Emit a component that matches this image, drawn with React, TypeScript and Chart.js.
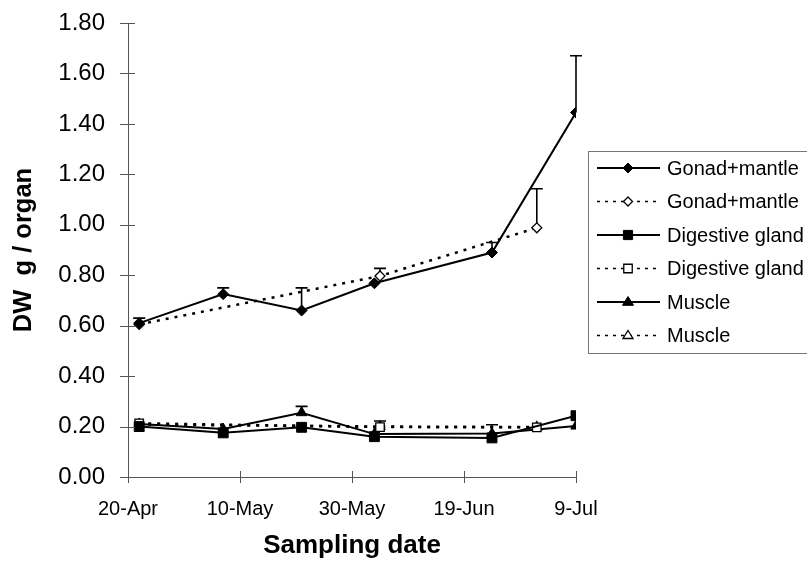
import React, { useEffect, useRef } from "react";
import { Chart, registerables } from "chart.js";

Chart.register(...registerables);

// ---- data ----
const tickDays = [0, 20, 40, 60, 80];
const tickLabels = ["20-Apr", "10-May", "30-May", "19-Jun", "9-Jul"];

const filledDays = [2, 17, 31, 44, 65, 80];
const openDays = [2, 45, 73];

const gonadFilled = [0.61, 0.725, 0.66, 0.768, 0.89, 1.445];
const gonadFilledErr = [0.02, 0.025, 0.09, null, 0.04, 0.225];
const gonadOpen = [0.605, 0.797, 0.988];
const gonadOpenErr = [null, 0.03, 0.155];

const digestFilled = [0.2, 0.175, 0.197, 0.16, 0.155, 0.243];
const digestFilledErr = [null, null, null, null, null, null];
const digestOpen = [0.213, 0.198, 0.197];
const digestOpenErr = [null, null, null];

const muscleFilled = [0.21, 0.19, 0.255, 0.17, 0.172, 0.202];
const muscleFilledErr = [null, null, 0.025, null, 0.035, null];
const muscleOpen = [0.208, 0.2, 0.198];
const muscleOpenErr = [null, 0.022, null];

const seriesLabels = [
  "Gonad+mantle",
  "Gonad+mantle",
  "Digestive gland",
  "Digestive gland",
  "Muscle",
  "Muscle",
];

const FONT = "'Liberation Sans', Arial, Helvetica, sans-serif";
const DOT = [3, 6];

function pts(days: number[], vals: number[]) {
  return days.map((d, i) => ({ x: d, y: vals[i] }));
}

function markerPath(ctx: CanvasRenderingContext2D, style: string, r: number, x: number, y: number) {
  ctx.beginPath();
  if (style === "rectRot") {
    ctx.moveTo(x, y - r);
    ctx.lineTo(x + r, y);
    ctx.lineTo(x, y + r);
    ctx.lineTo(x - r, y);
    ctx.closePath();
  } else if (style === "rect") {
    const s = r * Math.SQRT1_2;
    ctx.rect(x - s, y - s, 2 * s, 2 * s);
  } else {
    ctx.moveTo(x, y - r);
    ctx.lineTo(x + r, y + r * 0.6);
    ctx.lineTo(x - r, y + r * 0.6);
    ctx.closePath();
  }
}

const errorBarPlugin = {
  id: "errorBars",
  beforeDatasetsDraw(chart: any) {
    const { ctx } = chart;
    const xs = chart.scales.x;
    const ys = chart.scales.y;
    ctx.save();
    ctx.strokeStyle = "#000";
    ctx.lineWidth = 1.6;
    chart.data.datasets.forEach((ds: any) => {
      const errs = ds.errPlus as (number | null)[];
      if (!errs) return;
      ds.data.forEach((p: any, i: number) => {
        const e = errs[i];
        if (e == null) return;
        const x = xs.getPixelForValue(p.x);
        const y0 = ys.getPixelForValue(p.y);
        const y1 = ys.getPixelForValue(p.y + e);
        ctx.beginPath();
        ctx.moveTo(x, y0);
        ctx.lineTo(x, y1);
        ctx.moveTo(x - 6, y1);
        ctx.lineTo(x + 6, y1);
        ctx.stroke();
      });
    });
    ctx.restore();
  },
};

const crossTicksPlugin = {
  id: "crossTicks",
  afterDraw(chart: any) {
    const { ctx, chartArea } = chart;
    const xs = chart.scales.x;
    const ys = chart.scales.y;
    ctx.save();
    ctx.strokeStyle = "#555";
    ctx.lineWidth = 1;
    ys.ticks.forEach((t: any) => {
      const y = Math.round(ys.getPixelForValue(t.value)) + 0.5;
      ctx.beginPath();
      ctx.moveTo(chartArea.left - 8, y);
      ctx.lineTo(chartArea.left + 7, y);
      ctx.stroke();
    });
    xs.ticks.forEach((t: any) => {
      const x = Math.round(xs.getPixelForValue(t.value)) + 0.5;
      ctx.beginPath();
      ctx.moveTo(x, chartArea.bottom - 6);
      ctx.lineTo(x, chartArea.bottom + 6);
      ctx.stroke();
    });
    ctx.restore();
  },
};

const boxLegendPlugin = {
  id: "boxLegend",
  afterDraw(chart: any) {
    const { ctx } = chart;
    const left = 588;
    const top = 151;
    const bottom = 353;
    const right = 812;
    ctx.save();
    ctx.strokeStyle = "#777";
    ctx.lineWidth = 1;
    ctx.strokeRect(left + 0.5, top + 0.5, right - left, bottom - top);
    const rowH = 33.5;
    const firstY = 168;
    chart.data.datasets.forEach((ds: any, i: number) => {
      const y = firstY + i * rowH;
      const mx = 628;
      const isDotted = ds.borderDash && ds.borderDash.length > 0;
      ctx.strokeStyle = "#000";
      ctx.lineWidth = isDotted ? 1.6 : 2;
      ctx.setLineDash(isDotted ? [3, 5] : []);
      ctx.beginPath();
      ctx.moveTo(597, y);
      ctx.lineTo(660, y);
      ctx.stroke();
      ctx.setLineDash([]);
      const r = ds.pointStyle === "rect" ? 6.5 : ds.pointStyle === "triangle" ? 5.5 : 5;
      markerPath(ctx, ds.pointStyle, isDotted ? r - 0.5 : r, mx, y);
      ctx.fillStyle = ds.pointBackgroundColor;
      ctx.strokeStyle = "#000";
      ctx.lineWidth = ds.pointBorderWidth;
      ctx.fill();
      ctx.stroke();
      ctx.fillStyle = "#000";
      ctx.font = `20px ${FONT}`;
      ctx.textBaseline = "middle";
      ctx.textAlign = "left";
      ctx.fillText(seriesLabels[i], 667, y + 1);
    });
    ctx.restore();
  },
};

export default function App() {
  const ref = useRef<HTMLCanvasElement | null>(null);

  useEffect(() => {
    if (!ref.current) return;
    const solid = (label: string, data: any, style: string, r: number, err: any) => ({
      label,
      data,
      showLine: true,
      borderColor: "#000",
      borderWidth: 2,
      borderDash: [],
      pointStyle: style,
      pointRadius: r,
      pointBackgroundColor: "#000",
      pointBorderColor: "#000",
      pointBorderWidth: 1,
      errPlus: err,
    });
    const dotted = (label: string, data: any, style: string, r: number, err: any) => ({
      label,
      data,
      showLine: true,
      borderColor: "#000",
      borderWidth: 2.5,
      borderDash: DOT,
      pointStyle: style,
      pointRadius: r,
      pointBackgroundColor: "#fff",
      pointBorderColor: "#000",
      pointBorderWidth: 1.3,
      errPlus: err,
    });

    const chart = new Chart(ref.current, {
      type: "scatter",
      data: {
        datasets: [
          solid(seriesLabels[0], pts(filledDays, gonadFilled), "rectRot", 5.5, gonadFilledErr),
          dotted(seriesLabels[1], pts(openDays, gonadOpen), "rectRot", 5, gonadOpenErr),
          solid(seriesLabels[2], pts(filledDays, digestFilled), "rect", 7, digestFilledErr),
          dotted(seriesLabels[3], pts(openDays, digestOpen), "rect", 6, digestOpenErr),
          solid(seriesLabels[4], pts(filledDays, muscleFilled), "triangle", 6, muscleFilledErr),
          dotted(seriesLabels[5], pts(openDays, muscleOpen), "triangle", 5.5, muscleOpenErr),
        ] as any,
      },
      options: {
        animation: false,
        responsive: false,
        layout: { padding: { left: 0, top: 23, right: 231, bottom: 0 } },
        plugins: {
          legend: { display: false },
          tooltip: { enabled: false },
        },
        scales: {
          x: {
            type: "linear",
            min: 0,
            max: 80,
            afterBuildTicks: (s: any) => {
              s.ticks = tickDays.map((v) => ({ value: v }));
            },
            afterFit: (s: any) => {
              s.height = 89;
              s.paddingLeft = 0;
              s.paddingRight = 0;
            },
            grid: { display: false },
            border: { display: true, color: "#555", width: 1 },
            ticks: {
              autoSkip: false,
              maxRotation: 0,
              padding: 12,
              color: "#000",
              font: { family: FONT, size: 20 },
              callback: (v: any) => {
                const i = tickDays.indexOf(Number(v));
                return i >= 0 ? tickLabels[i] : "";
              },
            },
            title: {
              display: true,
              text: "Sampling date",
              color: "#000",
              font: { family: FONT, size: 26, weight: "bold" },
              padding: { top: 0, bottom: 5 },
            },
          },
          y: {
            min: 0,
            max: 1.8,
            afterFit: (s: any) => {
              s.width = 128;
              s.paddingTop = 0;
              s.paddingBottom = 0;
            },
            grid: { display: false },
            border: { display: true, color: "#555", width: 1 },
            ticks: {
              stepSize: 0.2,
              padding: 15,
              color: "#000",
              font: { family: FONT, size: 24 },
              callback: (v: any) => Number(v).toFixed(2),
            },
            title: {
              display: true,
              text: "DW  g / organ",
              color: "#000",
              font: { family: FONT, size: 25.5, weight: "bold" },
              padding: { top: 9, bottom: 0 },
            },
          },
        },
      } as any,
      plugins: [errorBarPlugin, crossTicksPlugin, boxLegendPlugin],
    });
    return () => chart.destroy();
  }, []);

  return (
    <div style={{ position: "absolute", left: 0, top: 0, width: 807, height: 566, background: "#fff" }}>
      <canvas ref={ref} width={807} height={566} style={{ width: 807, height: 566 }} />
    </div>
  );
}
